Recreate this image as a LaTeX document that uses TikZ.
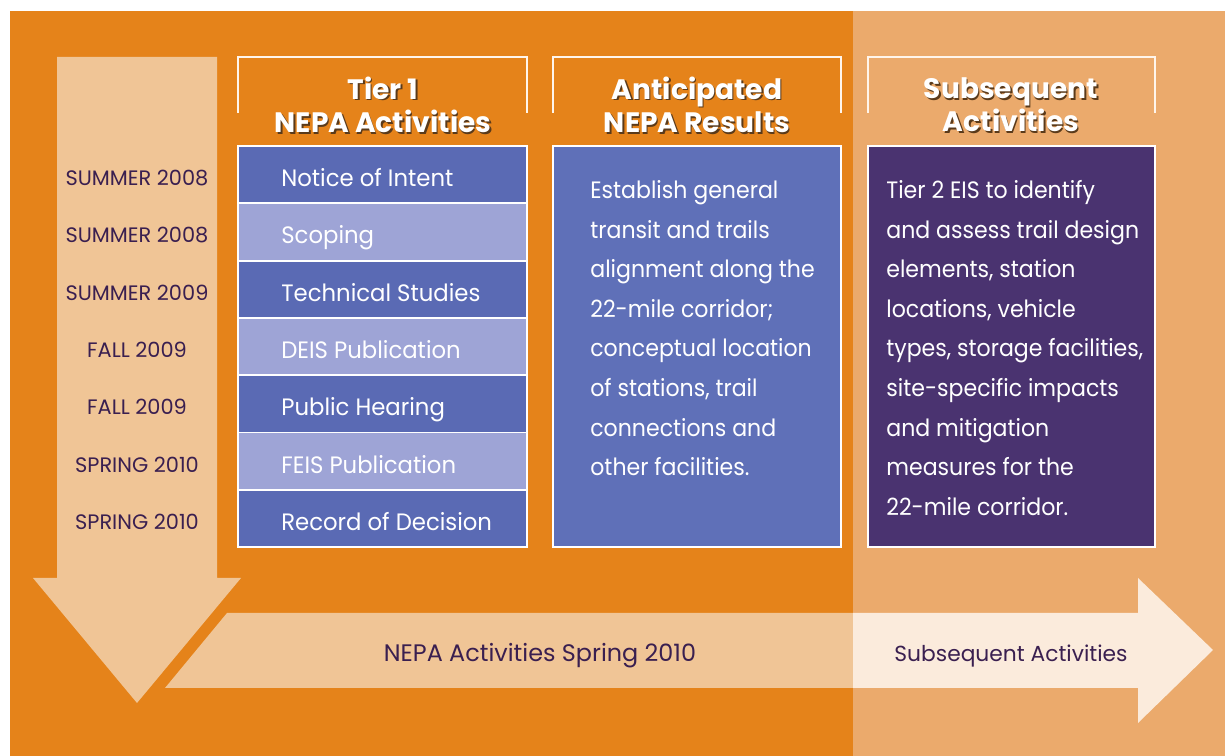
\documentclass[tikz,border=0pt]{standalone}
\usepackage{fontspec}
\setmainfont{Poppins}
\newfontfamily\narrowfont[FakeStretch=0.93]{Poppins}
\newfontfamily\rowfont[FakeStretch=0.96]{Poppins}
\definecolor{orangebg}{HTML}{E5831A}
\definecolor{lightbg}{HTML}{EBAA6C}
\definecolor{arrowA}{HTML}{F0C596}
\definecolor{arrowB}{HTML}{FBEBDC}
\definecolor{rowdark}{HTML}{5A6AB4}
\definecolor{rowlight}{HTML}{9EA4D6}
\definecolor{coltwo}{HTML}{5F70B8}
\definecolor{colthree}{HTML}{4A3370}
\definecolor{datecol}{HTML}{3A1F50}
\definecolor{shadowcol}{HTML}{5A3A1A}
\tikzset{
  boxline/.style={draw=white, line width=1.1pt},
  bracket/.style={draw=white!92!orange, line width=1.3pt},
  rowtext/.style={anchor=base west, text=white, inner sep=0pt, font=\rowfont\fontsize{13.5}{15}\selectfont},
  datetext/.style={anchor=base, text=datecol, inner sep=0pt, font=\fontsize{11.9}{13}\selectfont},
  headtext/.style={text=white, inner sep=0pt, align=center, font=\fontsize{16}{19}\selectfont\bfseries},
  headshadow/.style={text=shadowcol, inner sep=0pt, align=center, font=\fontsize{16}{19}\selectfont\bfseries},
  bodytext/.style={anchor=north west, text=white, inner sep=0pt, align=left, font=\narrowfont\fontsize{13.5}{22.55}\selectfont},
  arrowtext/.style={anchor=base, text=datecol, inner sep=0pt},
}
\begin{document}
\begin{tikzpicture}[x=0.02cm,y=-0.02cm]
\useasboundingbox (0,0) rectangle (1225,756);
\fill[white] (0,0) rectangle (1225,756);
\fill[orangebg] (10,11) rectangle (853,756);
\fill[lightbg] (853,11) rectangle (1225,756);
% down arrow
\fill[arrowA] (57,57) -- (217,57) -- (217,578) -- (241,578) -- (137,703) -- (33,578) -- (57,578) -- cycle;
% right arrow
\begin{scope}
\clip (0,0) rectangle (853,756);
\fill[arrowA] (227,613) -- (1138,613) -- (1138,578) -- (1213,650) -- (1138,723) -- (1138,688) -- (165,688) -- cycle;
\end{scope}
\begin{scope}
\clip (853,0) rectangle (1225,756);
\fill[arrowB] (227,613) -- (1138,613) -- (1138,578) -- (1213,650) -- (1138,723) -- (1138,688) -- (165,688) -- cycle;
\end{scope}
\node[arrowtext, font=\fontsize{13.6}{15}\selectfont] (a1) at (540,662) {NEPA Activities Spring 2010};
\node[arrowtext, font=\fontsize{12.4}{15}\selectfont] (a2) at (1011,662) {Subsequent Activities};
% header brackets
\draw[bracket] (238,113) -- (238,57) -- (527,57) -- (527,113);
\draw[bracket] (553,113) -- (553,57) -- (841,57) -- (841,113);
\draw[bracket] (868,113) -- (868,57) -- (1155,57) -- (1155,113);
\node[headshadow] (h1s) at (384.5,106.5) {Tier 1\\NEPA Activities};
\node[headtext] (h1) at (383,105) {Tier 1\\NEPA Activities};
\node[headshadow] (h2s) at (698.5,106.5) {Anticipated\\NEPA Results};
\node[headtext] (h2) at (697,105) {Anticipated\\NEPA Results};
\node[headshadow] (h3s) at (1012.5,106.5) {Subsequent\\Activities};
\node[headtext] (h3) at (1011,105) {Subsequent\\Activities};
% rows
\foreach \i/\fc/\txt/\dt in {0/rowdark/Notice of Intent/SUMMER 2008,
  1/rowlight/Scoping/SUMMER 2008,
  2/rowdark/Technical Studies/SUMMER 2009,
  3/rowlight/DEIS Publication/FALL 2009,
  4/rowdark/Public Hearing/FALL 2009,
  5/rowlight/FEIS Publication/SPRING 2010,
  6/rowdark/Record of Decision/SPRING 2010}{
  \pgfmathsetmacro{\ya}{146+57.3*\i}
  \pgfmathsetmacro{\yb}{146+57.3*(\i+1)}
  \pgfmathsetmacro{\yc}{146+57.3*(\i+0.5)+12}
  \pgfmathsetmacro{\yd}{146+57.3*(\i+0.5)+11}
  \filldraw[boxline, fill=\fc] (238,\ya) rectangle (527,\yb);
  \node[rowtext] (row\i) at (281,\yc) {\txt};
  \node[datetext] (date\i) at (137,\yd) {\dt};
}
% column 2
\filldraw[boxline, fill=coltwo] (553,146) rectangle (841,547);
\node[bodytext] (res) at (590,180) {Establish general\\transit and trails\\alignment along the\\22-mile corridor;\\conceptual location\\of stations, trail\\connections and\\other facilities.};
% column 3
\filldraw[boxline, fill=colthree] (868,146) rectangle (1155,547);
\node[bodytext] (sub) at (886,180) {Tier 2 EIS to identify\\and assess trail design\\elements, station\\locations, vehicle\\types, storage facilities,\\site-specific impacts\\and mitigation\\measures for the\\22-mile corridor.};
\end{tikzpicture}
\end{document}
